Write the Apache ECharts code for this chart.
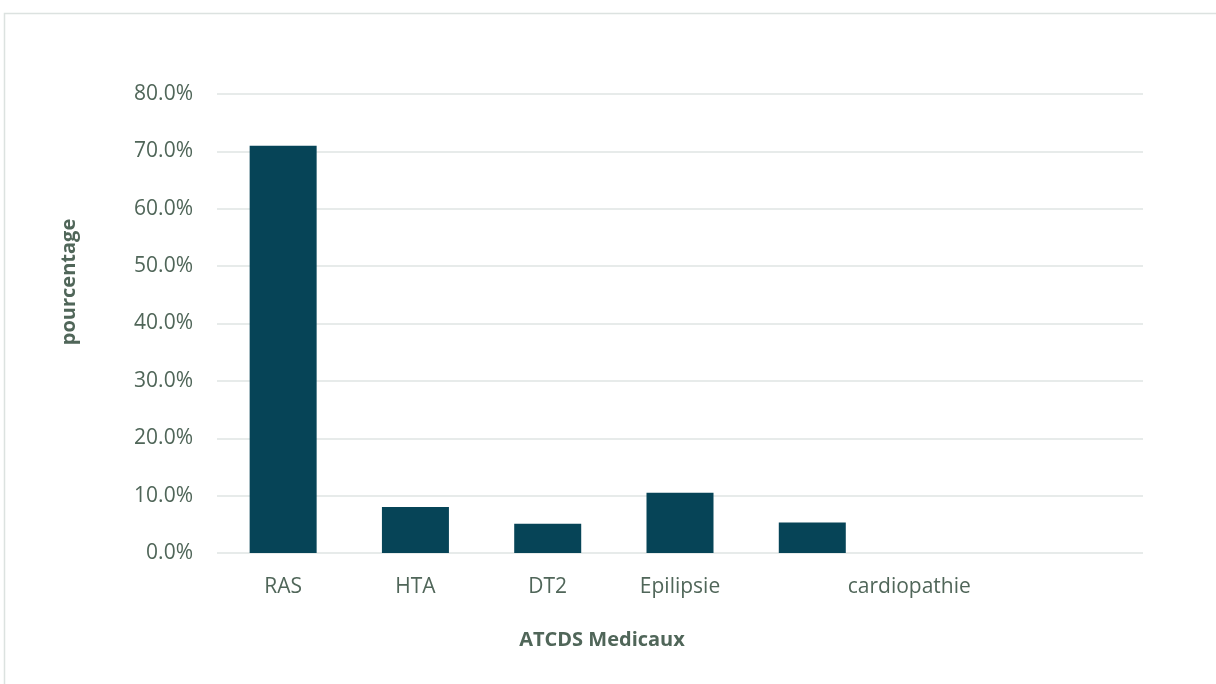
<!DOCTYPE html>
<html>
<head>
<meta charset="utf-8">
<script src="https://cdn.jsdelivr.net/npm/echarts@6/dist/echarts.min.js"></script>
<style>html,body{margin:0;padding:0;background:#fff;}#c{width:1216px;height:684px;}</style>
</head>
<body>
<div id="c"></div>
<script>
const categories = ['RAS', 'HTA', 'DT2', 'Epilipsie', 'cardiopathie', '', ''];
const values = [71.0, 8.0, 5.1, 10.5, 5.3, null, null];
const yTicks = { min: 0, max: 80, interval: 10 };
const xTitle = 'ATCDS Medicaux';
const yTitle = 'pourcentage';

const textColor = '#506659';
const font = '"Open Sans", "Noto Sans", sans-serif';
const chart = echarts.init(document.getElementById('c'), null, { renderer: 'canvas' });
chart.setOption({
  animation: false,
  backgroundColor: '#ffffff',
  grid: { left: 217, right: 73, top: 94, bottom: 131 },
  xAxis: {
    type: 'category',
    data: categories,
    axisLine: { show: false },
    axisTick: { show: false },
    axisLabel: {
      color: textColor, fontFamily: font, fontSize: 21, margin: 24, interval: 0,
      formatter: function (v) { return v === 'cardiopathie' ? '{pad|' + v + '}' : v; },
      rich: { pad: { color: textColor, fontFamily: font, fontSize: 21, padding: [0, 0, 0, 194] } }
    }
  },
  yAxis: {
    type: 'value',
    min: yTicks.min, max: yTicks.max, interval: yTicks.interval,
    axisLine: { show: false },
    axisTick: { show: false },
    axisLabel: {
      color: textColor, fontFamily: font, fontSize: 21, margin: 24,
      formatter: function (v) { return v.toFixed(1) + '%'; }
    },
    splitLine: { lineStyle: { color: '#dfe5e3', width: 1.5 } }
  },
  series: [{
    type: 'bar',
    data: values,
    barWidth: 67,
    itemStyle: { color: '#064457' }
  }],
  graphic: [
    { type: 'rect', left: 2, top: 11, z: -1, silent: true,
      shape: { x: 0, y: 0, width: 1400, height: 900 },
      style: { fill: 'none', stroke: '#dce2e0', lineWidth: 1.5 } },
    { type: 'text', x: 602, y: 640, silent: true,
      style: { text: xTitle, fill: textColor, font: 'bold 20px ' + font, align: 'center', verticalAlign: 'middle' } },
    { type: 'text', x: 69, y: 282, rotation: Math.PI / 2, silent: true,
      style: { text: yTitle, fill: textColor, font: 'bold 20px ' + font, align: 'center', verticalAlign: 'middle' } }
  ]
});
</script>
</body>
</html>
